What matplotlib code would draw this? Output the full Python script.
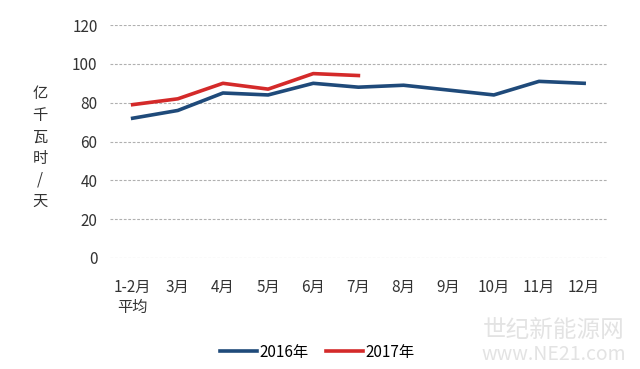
import matplotlib.pyplot as plt

plt.rcParams['font.family'] = ['Noto Sans CJK SC', 'DejaVu Sans']

months = ['1-2月\n平均', '3月', '4月', '5月', '6月', '7月', '8月', '9月', '10月', '11月', '12月']
y2016 = [72, 76, 85, 84, 90, 88, 89, 86.5, 84, 91, 90]
y2017 = [79, 82, 90, 87, 95, 94]
yticks = [0, 20, 40, 60, 80, 100, 120]

fig = plt.figure(figsize=(6.4, 3.69), dpi=100)
ax = fig.add_axes([0.172, 0.301, 0.776, 0.631])

x = list(range(len(months)))
ax.plot(x, y2016, color='#1f4a7a', lw=2.6, label='2016年', solid_joinstyle='round')
ax.plot(x[:len(y2017)], y2017, color='#d42a2a', lw=2.6, label='2017年', solid_joinstyle='round')

ax.set_xlim(-0.5, len(months) - 0.5)
ax.set_ylim(0, 120)
ax.set_yticks(yticks)
ax.set_xticks(x)
ax.set_xticklabels(months, fontsize=11, color='#333333', linespacing=1.25)
ax.tick_params(axis='y', labelsize=11, colors='#333333', length=0, pad=9)
ax.tick_params(axis='x', length=0, pad=15)

ax.grid(axis='y', color='#b0b0b0', ls=(0, (2.5, 1.5)), lw=0.8)
ax.set_axisbelow(True)
for s in ax.spines.values():
    s.set_visible(False)

# vertical stacked unit label
fig.text(0.063, 0.6, '亿\n千\n瓦\n时\n/\n天', ha='center', va='center',
         fontsize=11, color='#333333', linespacing=1.35)

fig.legend(loc='lower center', bbox_to_anchor=(0.496, -0.015), ncol=2, frameon=False,
           fontsize=11, handlelength=2.4, handletextpad=0.2, columnspacing=1.1)

# watermark
fig.text(0.865, 0.105, '世纪新能源网', ha='center', va='center', fontsize=17, color='#e3e3e3')
fig.text(0.865, 0.04, 'www.NE21.com', ha='center', va='center', fontsize=14, color='#e3e3e3')

plt.savefig('out.png', dpi=100)
